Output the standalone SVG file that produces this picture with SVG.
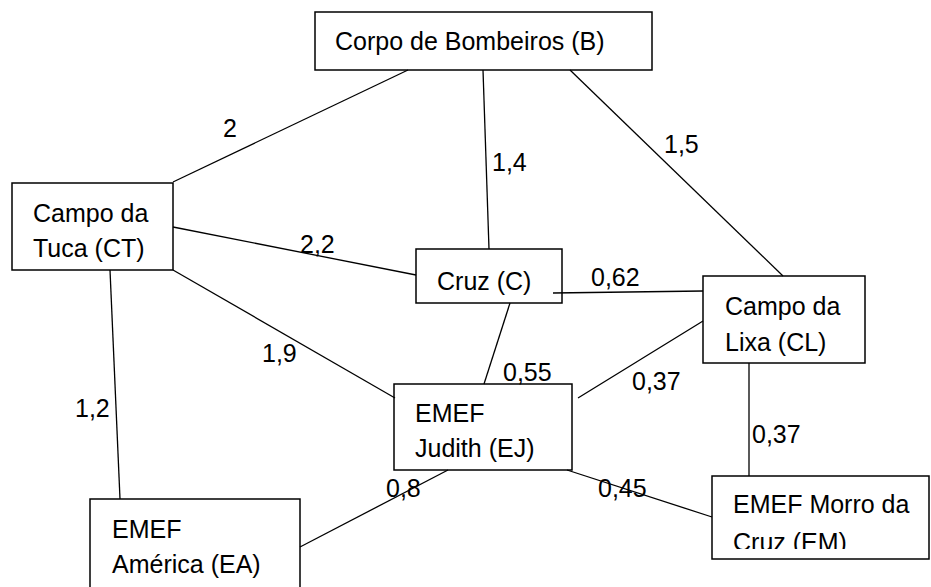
<svg xmlns="http://www.w3.org/2000/svg" width="931" height="587" viewBox="0 0 931 587">
<style>
.box{fill:#fff;stroke:#000;stroke-width:1.5}
.t{font-family:"Liberation Sans",Arial,sans-serif;font-size:25px;fill:#000}
.e{stroke:#000;stroke-width:1.3;fill:none}
</style>
<defs>
<clipPath id="clipEM"><rect x="712" y="476" width="220" height="73"/></clipPath>
</defs>
<rect width="931" height="587" fill="#fff"/>
<g id="node-B">
<rect class="box" x="315" y="12" width="337" height="58"/>
<text class="t" x="335" y="50">Corpo de Bombeiros (B)</text>
</g>
<g id="node-CT">
<rect class="box" x="12" y="183" width="161" height="87"/>
<text class="t" x="33" y="222">Campo da</text>
<text class="t" x="33" y="257">Tuca (CT)</text>
</g>
<g id="node-C">
<rect class="box" x="416" y="249" width="146" height="54"/>
<text class="t" x="437" y="290">Cruz (C)</text>
</g>
<g id="node-CL">
<rect class="box" x="703" y="276" width="162" height="87"/>
<text class="t" x="725" y="315">Campo da</text>
<text class="t" x="725" y="351">Lixa (CL)</text>
</g>
<g id="node-EJ">
<rect class="box" x="394" y="384" width="178" height="86"/>
<text class="t" x="415" y="422">EMEF</text>
<text class="t" x="415" y="457">Judith (EJ)</text>
</g>
<g id="node-EM">
<rect class="box" x="712" y="476" width="217" height="83"/>
<g clip-path="url(#clipEM)">
<text class="t" x="733" y="513">EMEF Morro da</text>
<text class="t" x="733" y="551">Cruz (EM)</text>
</g>
</g>
<g id="node-EA">
<rect class="box" x="90" y="499" width="210" height="110"/>
<text class="t" x="112" y="538">EMEF</text>
<text class="t" x="112" y="573">América (EA)</text>
</g>
<g id="connectors">
<line class="e" x1="408" y1="70" x2="173" y2="182"/>
<line class="e" x1="483" y1="70" x2="489" y2="249"/>
<line class="e" x1="570" y1="70" x2="783" y2="276"/>
<line class="e" x1="173" y1="227" x2="416" y2="275"/>
<line class="e" x1="553" y1="293" x2="703" y2="291"/>
<line class="e" x1="173" y1="270" x2="395" y2="398"/>
<line class="e" x1="110" y1="270" x2="120" y2="499"/>
<line class="e" x1="510" y1="303" x2="484" y2="384"/>
<line class="e" x1="703" y1="321" x2="578" y2="398"/>
<line class="e" x1="749" y1="363" x2="749" y2="476"/>
<line class="e" x1="448" y1="470" x2="300" y2="547"/>
<line class="e" x1="567" y1="470" x2="712" y2="517"/>
<g class="t">
<text x="223" y="137">2</text>
<text x="492" y="171">1,4</text>
<text x="664" y="153">1,5</text>
<text x="300" y="253">2,2</text>
<text x="591" y="286">0,62</text>
<text x="262" y="362">1,9</text>
<text x="75" y="417">1,2</text>
<text x="503" y="381">0,55</text>
<text x="632" y="390">0,37</text>
<text x="752" y="443">0,37</text>
<text x="386" y="497">0,8</text>
<text x="598" y="497">0,45</text>
</g>
</g>
</svg>
